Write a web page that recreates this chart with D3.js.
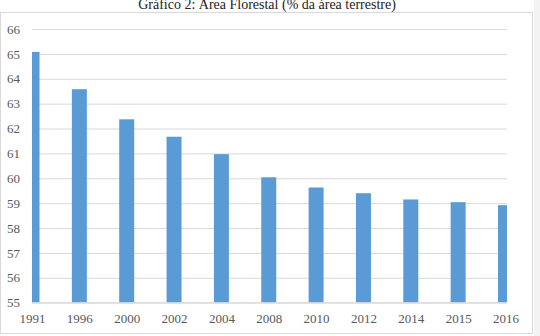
<!DOCTYPE html>
<meta charset="utf-8">
<html lang="pt">
<head>
<style>
  body { margin: 0; background: #fff; }
  .tick text { font-family: "Liberation Serif", "Times New Roman", serif; font-size: 13px; fill: #595959; }
  .grid line { stroke: #d9d9d9; stroke-width: 1; }
</style>
</head>
<body>
<div id="chart"></div>
<script src="https://cdnjs.cloudflare.com/ajax/libs/d3/7.8.5/d3.min.js"></script>
<script>
// data
var years = ["1991", "1996", "2000", "2002", "2004", "2008", "2010", "2012", "2014", "2015", "2016"];
var forest = [65.08, 63.58, 62.37, 61.67, 60.97, 60.04, 59.63, 59.40, 59.15, 59.04, 58.92];
var yTicks = [55, 56, 57, 58, 59, 60, 61, 62, 63, 64, 65, 66];
var title = "Gráfico 2: Área Florestal (% da área terrestre)";

var W = 540, H = 336;
var plot = {left: 32, right: 507, top: 29, bottom: 302.7};

var svg = d3.select("#chart").append("svg")
    .attr("width", W)
    .attr("height", H);

// frame
svg.append("rect")
    .attr("x", 0.5).attr("y", 12.5)
    .attr("width", 532).attr("height", 321)
    .attr("fill", "#fff")
    .attr("stroke", "#d9d9d9");
svg.append("rect")
    .attr("x", 534).attr("y", 0)
    .attr("width", 6).attr("height", H)
    .attr("fill", "#f3f3f3");

// title (sits partly above the frame)
svg.append("text")
    .attr("x", 267).attr("y", 8.5)
    .attr("text-anchor", "middle")
    .attr("font-family", "Liberation Serif, Times New Roman, serif")
    .attr("font-size", 14)
    .attr("fill", "#222")
    .text(title);

var x = d3.scalePoint()
    .domain(years)
    .range([plot.left, 505.5]);

var y = d3.scaleLinear()
    .domain([55, 66])
    .range([plot.bottom, plot.top]);

// gridlines + y labels
svg.append("g")
    .attr("class", "grid")
    .attr("transform", "translate(" + plot.left + ",0)")
    .call(d3.axisLeft(y).tickValues(yTicks).tickSize(-(plot.right - plot.left)).tickPadding(12).tickFormat(d3.format("d")))
    .call(function(g) { g.select(".domain").remove(); });

// clip so the edge bars are cut in half like the original
svg.append("clipPath").attr("id", "clip")
  .append("rect")
    .attr("x", plot.left).attr("y", 0)
    .attr("width", plot.right - plot.left).attr("height", plot.bottom);

var barW = 15;
svg.append("g")
    .attr("clip-path", "url(#clip)")
  .selectAll("rect")
  .data(forest)
  .enter()
  .append("rect")
    .attr("x", function(d, i) { return x(years[i]) - barW / 2; })
    .attr("y", function(d) { return y(d); })
    .attr("width", barW)
    .attr("height", function(d) { return y(55) - y(d); })
    .attr("fill", "#5b9bd5");

// x axis labels
svg.append("g")
    .attr("transform", "translate(0," + plot.bottom + ")")
    .call(d3.axisBottom(x).tickSize(0).tickPadding(11))
    .call(function(g) { g.select(".domain").attr("stroke", "#d9d9d9").attr("d", "M" + plot.left + ",0H" + plot.right); });
</script>
</body>
</html>
